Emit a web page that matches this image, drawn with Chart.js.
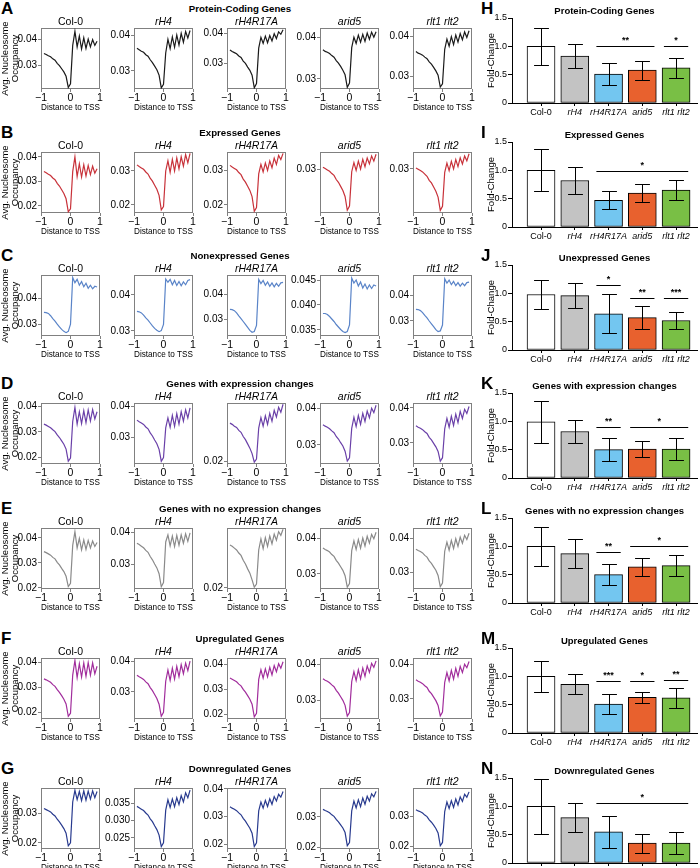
<!DOCTYPE html>
<html>
<head>
<meta charset="utf-8">
<script src="https://cdn.jsdelivr.net/npm/chart.js@4.4.1/dist/chart.umd.min.js"></script>
<style>
  body { margin: 0; background: #fff; width: 700px; height: 868px; position: relative; overflow: hidden;
         font-family: "Liberation Sans", Arial, sans-serif; }
  .letter { position: absolute; font-weight: bold; font-size: 17px; line-height: 17px; }
  .heading { position: absolute; font-weight: bold; font-size: 9.7px; white-space: nowrap; transform: translate(-50%, -50%); }
</style>
</head>
<body>
<script>
// distance to TSS, shared by all profile plots
const xs = [-0.9,-0.825,-0.75,-0.675,-0.6,-0.525,-0.45,-0.375,-0.3,-0.225,-0.15,-0.075,0,0.075,0.15,0.225,0.3,0.375,0.45,0.525,0.6,0.675,0.75,0.825,0.9];

const genotypes = ['Col-0', 'rH4', 'rH4R17A', 'arid5', 'rlt1 rlt2'];

// A - protein coding genes
const codingCol0 = [.0345,.0341,.0336,.0332,.0324,.0319,.0307,.0298,.0286,.0274,.0257,.0214,.0228,.0376,.0430,.0370,.0412,.0362,.0405,.0364,.0400,.0370,.0398,.0376,.0392];
const codingRH4 = [.0363,.0359,.0355,.0352,.0345,.0341,.0331,.0323,.0313,.0303,.0288,.0252,.0262,.0350,.0388,.0362,.0395,.0366,.0400,.0372,.0405,.0380,.0410,.0392,.0413];
const codingR17A = [.0344,.0339,.0335,.0331,.0324,.0319,.0307,.0299,.0287,.0276,.0260,.0218,.0232,.0350,.0386,.0366,.0390,.0368,.0392,.0374,.0398,.0382,.0404,.0396,.0411];
const codingArid5 = [.0370,.0366,.0364,.0361,.0356,.0352,.0344,.0338,.0330,.0321,.0310,.0280,.0290,.0375,.0400,.0385,.0405,.0388,.0407,.0390,.0410,.0395,.0412,.0400,.0413];
const codingRlt = [.0362,.0358,.0356,.0353,.0348,.0344,.0336,.0330,.0322,.0313,.0302,.0272,.0280,.0368,.0394,.0376,.0400,.0380,.0404,.0386,.0408,.0392,.0412,.0398,.0415];
const codingRange = [[.0208,.0443],[.0249,.0420],[.0214,.0417],[.0276,.0422],[.0267,.0422]];
const codingTicks = [['0.03','0.04'],['0.03','0.04'],['0.03','0.04'],['0.03','0.04'],['0.03','0.04']];

// B - expressed genes
const exprCol0 = [.0340,.0335,.0329,.0324,.0314,.0307,.0292,.0281,.0266,.0251,.0229,.0176,.0188,.0340,.0400,.0320,.0372,.0318,.0368,.0322,.0365,.0328,.0362,.0334,.0352];
const exprRH4 = [.0318,.0313,.0309,.0305,.0297,.0291,.0279,.0270,.0258,.0246,.0228,.0185,.0195,.0300,.0330,.0296,.0334,.0300,.0338,.0306,.0342,.0314,.0348,.0324,.0352];
const exprR17A = [.0315,.0310,.0306,.0302,.0294,.0288,.0275,.0266,.0254,.0242,.0224,.0181,.0192,.0290,.0318,.0296,.0322,.0300,.0328,.0308,.0336,.0318,.0344,.0332,.0350];
const exprArid5 = [.0305,.0302,.0299,.0296,.0291,.0287,.0278,.0272,.0263,.0254,.0241,.0211,.0220,.0295,.0315,.0298,.0318,.0301,.0322,.0306,.0325,.0312,.0329,.0318,.0333];
const exprRlt = [.0302,.0299,.0296,.0293,.0288,.0283,.0274,.0268,.0259,.0249,.0236,.0206,.0215,.0292,.0313,.0296,.0317,.0300,.0321,.0305,.0325,.0311,.0329,.0318,.0334];
const exprRange = [[.0171,.0420],[.0176,.0356],[.0176,.0354],[.0205,.0338],[.0200,.0338]];
const exprTicks = [['0.02','0.03','0.04'],['0.02','0.03'],['0.02','0.03'],['0.03'],['0.03']];

// C - nonexpressed genes
const nonCol0 = [.0346,.0345,.0342,.0333,.0322,.0312,.0300,.0290,.0280,.0272,.0267,.0272,.0300,.0482,.0462,.0475,.0452,.0466,.0446,.0460,.0440,.0452,.0438,.0448,.0445];
const nonRH4 = [.0354,.0353,.0350,.0344,.0336,.0330,.0322,.0314,.0307,.0302,.0298,.0301,.0318,.0444,.0435,.0443,.0428,.0440,.0426,.0437,.0425,.0436,.0428,.0440,.0442];
const nonR17A = [.0340,.0339,.0335,.0326,.0314,.0303,.0291,.0279,.0267,.0255,.0247,.0250,.0275,.0462,.0445,.0458,.0438,.0452,.0434,.0448,.0432,.0446,.0434,.0448,.0450];
const nonArid5 = [.0383,.0383,.0381,.0377,.0372,.0367,.0361,.0356,.0351,.0347,.0345,.0347,.0360,.0454,.0444,.0450,.0438,.0446,.0434,.0442,.0432,.0440,.0433,.0440,.0438];
const nonRlt = [.0345,.0344,.0340,.0332,.0321,.0311,.0299,.0288,.0277,.0265,.0257,.0260,.0283,.0465,.0448,.0460,.0442,.0455,.0438,.0450,.0436,.0448,.0438,.0450,.0452];
const nonRange = [[.0254,.0492],[.0286,.0455],[.0232,.0480],[.0338,.0460],[.0240,.0480]];
const nonTicks = [['0.03','0.04'],['0.03','0.04'],['0.03','0.04'],['0.035','0.040','0.045'],['0.03','0.04']];

// D - genes with expression changes
const chgCol0 = [.0330,.0326,.0321,.0316,.0308,.0301,.0288,.0278,.0265,.0252,.0233,.0186,.0198,.0340,.0395,.0330,.0378,.0332,.0382,.0336,.0385,.0342,.0386,.0350,.0378];
const chgRH4 = [.0355,.0350,.0346,.0341,.0333,.0327,.0314,.0304,.0291,.0279,.0261,.0223,.0235,.0330,.0362,.0332,.0370,.0335,.0376,.0342,.0382,.0352,.0388,.0362,.0394];
const chgR17A = [.0263,.0261,.0258,.0256,.0251,.0248,.0241,.0236,.0229,.0222,.0213,.0199,.0204,.0255,.0272,.0258,.0275,.0261,.0279,.0266,.0284,.0273,.0289,.0281,.0294];
const chgArid5 = [.0355,.0351,.0348,.0344,.0338,.0333,.0323,.0316,.0306,.0297,.0283,.0256,.0265,.0345,.0375,.0350,.0380,.0356,.0386,.0364,.0392,.0374,.0400,.0388,.0408];
const chgRlt = [.0349,.0345,.0342,.0338,.0332,.0327,.0316,.0309,.0299,.0289,.0276,.0248,.0258,.0340,.0370,.0345,.0376,.0350,.0382,.0358,.0390,.0370,.0396,.0384,.0404];
const chgRange = [[.0175,.0412],[.0214,.0410],[.0196,.0296],[.0248,.0414],[.0240,.0414]];
const chgTicks = [['0.02','0.03','0.04'],['0.03','0.04'],['0.02'],['0.03','0.04'],['0.03','0.04']];

// E - genes with no expression changes
const noCol0 = [.0345,.0341,.0336,.0331,.0322,.0316,.0302,.0292,.0278,.0265,.0246,.0205,.0218,.0370,.0425,.0360,.0398,.0352,.0392,.0354,.0390,.0360,.0388,.0366,.0382];
const noRH4 = [.0366,.0362,.0357,.0352,.0344,.0338,.0325,.0315,.0302,.0290,.0272,.0232,.0245,.0370,.0392,.0358,.0388,.0356,.0390,.0360,.0392,.0366,.0395,.0372,.0398];
const noR17A = [.0270,.0268,.0265,.0262,.0257,.0253,.0245,.0239,.0231,.0224,.0213,.0201,.0206,.0262,.0280,.0264,.0282,.0268,.0285,.0272,.0288,.0278,.0292,.0286,.0296];
const noArid5 = [.0372,.0368,.0365,.0361,.0354,.0349,.0338,.0330,.0320,.0310,.0295,.0263,.0273,.0365,.0392,.0368,.0396,.0372,.0400,.0378,.0405,.0386,.0410,.0398,.0416];
const noRlt = [.0368,.0364,.0361,.0357,.0350,.0345,.0334,.0327,.0317,.0307,.0292,.0260,.0270,.0362,.0388,.0365,.0393,.0370,.0398,.0376,.0403,.0385,.0408,.0396,.0414];
const noRange = [[.0195,.0440],[.0225,.0413],[.0198,.0298],[.0258,.0428],[.0253,.0429]];
const noTicks = [['0.02','0.03','0.04'],['0.03','0.04'],['0.02'],['0.03','0.04'],['0.03','0.04']];

// F - upregulated genes
const upCol0 = [.0335,.0331,.0326,.0321,.0312,.0305,.0292,.0281,.0268,.0254,.0235,.0186,.0198,.0350,.0408,.0340,.0395,.0342,.0398,.0345,.0400,.0350,.0398,.0355,.0385];
const upRH4 = [.0355,.0350,.0346,.0341,.0333,.0327,.0314,.0304,.0291,.0278,.0259,.0219,.0232,.0335,.0372,.0338,.0378,.0342,.0384,.0350,.0390,.0360,.0395,.0370,.0402];
const upR17A = [.0345,.0340,.0335,.0330,.0321,.0314,.0300,.0289,.0275,.0261,.0241,.0191,.0205,.0340,.0378,.0345,.0382,.0350,.0388,.0358,.0395,.0370,.0402,.0384,.0410];
const upArid5 = [.0360,.0356,.0353,.0349,.0343,.0338,.0328,.0320,.0310,.0300,.0286,.0256,.0266,.0352,.0380,.0355,.0385,.0360,.0390,.0367,.0396,.0378,.0403,.0392,.0410];
const upRlt = [.0355,.0351,.0348,.0344,.0338,.0333,.0322,.0315,.0305,.0295,.0281,.0251,.0262,.0348,.0376,.0352,.0382,.0357,.0388,.0365,.0394,.0376,.0400,.0390,.0408];
const upRange = [[.0175,.0418],[.0210,.0412],[.0182,.0425],[.0248,.0418],[.0242,.0418]];
const upTicks = [['0.02','0.03','0.04'],['0.03','0.04'],['0.02','0.03','0.04'],['0.03','0.04'],['0.03','0.04']];

// G - downregulated genes
const downCol0 = [.0318,.0314,.0310,.0306,.0298,.0292,.0281,.0272,.0261,.0249,.0233,.0190,.0200,.0340,.0380,.0348,.0376,.0345,.0378,.0346,.0377,.0350,.0378,.0355,.0376];
const downRH4 = [.0341,.0337,.0333,.0329,.0322,.0316,.0305,.0297,.0285,.0274,.0258,.0225,.0236,.0330,.0360,.0338,.0362,.0340,.0366,.0346,.0372,.0354,.0380,.0366,.0388];
const downR17A = [.0335,.0330,.0326,.0321,.0313,.0306,.0293,.0283,.0270,.0257,.0239,.0191,.0204,.0320,.0352,.0330,.0358,.0336,.0364,.0344,.0372,.0356,.0380,.0370,.0390];
const downArid5 = [.0325,.0321,.0318,.0314,.0307,.0302,.0292,.0284,.0274,.0264,.0249,.0206,.0216,.0320,.0352,.0330,.0356,.0334,.0362,.0342,.0368,.0352,.0376,.0366,.0384];
const downRlt = [.0322,.0318,.0315,.0311,.0304,.0299,.0288,.0280,.0270,.0259,.0244,.0201,.0212,.0316,.0348,.0326,.0352,.0330,.0358,.0338,.0365,.0350,.0374,.0364,.0382];
const downRange = [[.0179,.0388],[.0218,.0394],[.0182,.0403],[.0195,.0395],[.0190,.0395]];
const downTicks = [['0.02','0.03'],['0.025','0.030','0.035'],['0.02','0.03','0.04'],['0.02','0.03'],['0.02','0.03']];

// H-N fold change: mean, sd, significance [from, to, level, stars]
const codingMean = [1.0, 0.83, 0.51, 0.58, 0.62];
const codingSd = [0.33, 0.21, 0.19, 0.17, 0.17];
const codingSig = [[2, 3, 1.0, '**'], [4, 4, 1.0, '*']];
const exprMean = [1.0, 0.82, 0.47, 0.60, 0.65];
const exprSd = [0.37, 0.24, 0.16, 0.16, 0.18];
const exprSig = [[2, 4, 0.99, '*']];
const unexMean = [0.98, 0.96, 0.64, 0.57, 0.52];
const unexSd = [0.25, 0.22, 0.34, 0.20, 0.15];
const unexSig = [[2, 2, 1.15, '*'], [3, 3, 0.91, '**'], [4, 4, 0.91, '***']];
const chgMean = [0.99, 0.82, 0.50, 0.51, 0.51];
const chgSd = [0.37, 0.21, 0.20, 0.14, 0.19];
const chgSig = [[2, 2, 0.9, '**'], [3, 4, 0.9, '*']];
const noMean = [1.0, 0.87, 0.50, 0.64, 0.66];
const noSd = [0.35, 0.26, 0.18, 0.16, 0.19];
const noSig = [[2, 2, 0.9, '**'], [3, 4, 1.0, '*']];
const upMean = [1.0, 0.86, 0.51, 0.63, 0.62];
const upSd = [0.27, 0.18, 0.17, 0.10, 0.18];
const upSig = [[2, 2, 0.92, '***'], [3, 3, 0.92, '*'], [4, 4, 0.94, '**']];
const downMean = [1.0, 0.80, 0.55, 0.35, 0.35];
const downSd = [0.48, 0.26, 0.28, 0.17, 0.19];
const downSig = [[2, 4, 1.06, '*']];

const barColors = ['#ffffff', '#c3c3c3', '#73c6f0', '#e8612e', '#79bf45'];
const foldTicks = ['0', '0.5', '1.0', '1.5'];

const rows = [
  { letter: 'A', barLetter: 'H', heading: 'Protein-Coding Genes', barTitle: 'Protein-Coding Genes', color: '#1a1a1a',
    lines: [codingCol0, codingRH4, codingR17A, codingArid5, codingRlt], range: codingRange, ticks: codingTicks,
    mean: codingMean, sd: codingSd, sig: codingSig },
  { letter: 'B', barLetter: 'I', heading: 'Expressed Genes', barTitle: 'Expressed Genes', color: '#c8323a',
    lines: [exprCol0, exprRH4, exprR17A, exprArid5, exprRlt], range: exprRange, ticks: exprTicks,
    mean: exprMean, sd: exprSd, sig: exprSig },
  { letter: 'C', barLetter: 'J', heading: 'Nonexpressed Genes', barTitle: 'Unexpressed Genes', color: '#5a84c8',
    lines: [nonCol0, nonRH4, nonR17A, nonArid5, nonRlt], range: nonRange, ticks: nonTicks,
    mean: unexMean, sd: unexSd, sig: unexSig },
  { letter: 'D', barLetter: 'K', heading: 'Genes with expression changes', barTitle: 'Genes with expression changes', color: '#6a40a8',
    lines: [chgCol0, chgRH4, chgR17A, chgArid5, chgRlt], range: chgRange, ticks: chgTicks,
    mean: chgMean, sd: chgSd, sig: chgSig },
  { letter: 'E', barLetter: 'L', heading: 'Genes with no expression changes', barTitle: 'Genes with no expression changes', color: '#8a8a8a',
    lines: [noCol0, noRH4, noR17A, noArid5, noRlt], range: noRange, ticks: noTicks,
    mean: noMean, sd: noSd, sig: noSig },
  { letter: 'F', barLetter: 'M', heading: 'Upregulated Genes', barTitle: 'Upregulated Genes', color: '#a12d9c',
    lines: [upCol0, upRH4, upR17A, upArid5, upRlt], range: upRange, ticks: upTicks,
    mean: upMean, sd: upSd, sig: upSig },
  { letter: 'G', barLetter: 'N', heading: 'Downregulated Genes', barTitle: 'Downregulated Genes', color: '#283a8e',
    lines: [downCol0, downRH4, downR17A, downArid5, downRlt], range: downRange, ticks: downTicks,
    mean: downMean, sd: downSd, sig: downSig },
];

// layout of the panels (px)
const boxLeft = [41, 134, 227, 320, 413];
const boxW = 59, boxH = 61;
const rowTop = [28, 152, 275, 403, 528, 658, 788];

Chart.defaults.font.family = '"Liberation Sans", Arial, sans-serif';
Chart.defaults.color = '#000';

function addCanvas(left, top, w, h) {
  const cv = document.createElement('canvas');
  cv.width = w;
  cv.height = h;
  cv.style.cssText = `position:absolute;left:${left}px;top:${top}px;width:${w}px;height:${h}px`;
  document.body.appendChild(cv);
  return cv;
}

function addText(cls, text, left, top) {
  const d = document.createElement('div');
  d.className = cls;
  d.textContent = text;
  d.style.left = left + 'px';
  d.style.top = top + 'px';
  document.body.appendChild(d);
}

// grey frame round the profile plots
const frame = {
  id: 'frame',
  beforeDatasetsDraw(chart) {
    const a = chart.chartArea, c = chart.ctx;
    c.save();
    c.strokeStyle = '#808080';
    c.lineWidth = 1;
    c.strokeRect(Math.round(a.left) + 0.5, Math.round(a.top) + 0.5, Math.round(a.right - a.left) - 1, Math.round(a.bottom - a.top) - 1);
    c.restore();
  }
};

function lineChart(cv, ys, row, c, yw) {
  const tickLabels = row.ticks[c];
  new Chart(cv, {
    type: 'line',
    data: {
      datasets: [{
        data: xs.map((x, i) => ({ x: x, y: ys[i] })),
        borderColor: row.color,
        borderWidth: 1.2,
        pointRadius: 0,
        tension: 0,
        fill: false,
      }]
    },
    options: {
      responsive: false,
      animation: false,
      events: [],
      layout: { padding: { left: 0, right: 8, top: 0, bottom: 0 } },
      plugins: {
        legend: { display: false },
        tooltip: { enabled: false },
        title: {
          display: true,
          fullSize: false,
          text: genotypes[c],
          font: { size: 10.5, weight: 'normal', style: c === 0 ? 'normal' : 'italic', lineHeight: '12px' },
          color: '#000',
          padding: { top: 4, bottom: 0 },
        },
      },
      scales: {
        x: {
          type: 'linear',
          min: -1,
          max: 1,
          afterBuildTicks: (s) => { s.ticks = [-1, 0, 1].map(v => ({ value: v })); },
          afterFit: (s) => { s.height = 25; },
          grid: { drawOnChartArea: false, drawTicks: true, tickLength: 3, color: '#808080' },
          border: { display: false },
          ticks: { font: { size: 10.5 }, padding: 0, maxRotation: 0, callback: (v) => v < 0 ? '\u2212' + (-v) : String(v) },
          title: { display: true, text: 'Distance to TSS', font: { size: 9.8, lineHeight: '12px' }, padding: { top: 0, bottom: 1 } },
        },
        y: {
          min: row.range[c][0],
          max: row.range[c][1],
          afterBuildTicks: (s) => { s.ticks = tickLabels.map(t => ({ value: Number(t) })); },
          afterFit: (s) => { s.width = yw; },
          grid: { drawOnChartArea: false, drawTicks: true, tickLength: 3, color: '#808080' },
          border: { display: false },
          ticks: { font: { size: 10 }, padding: 1, callback: (v, i) => tickLabels[i] },
          title: c === 0
            ? { display: true, text: ['Avg. Nucleosome', 'Occupancy'], font: { size: 9.5, lineHeight: '10px' }, padding: { top: 0, bottom: 0 } }
            : { display: false },
        },
      },
    },
    plugins: [frame],
  });
}

function barChart(cv, row) {
  // error bars and significance lines on top of the bars
  const extras = {
    id: 'extras',
    afterDatasetsDraw(chart) {
      const { ctx, scales: { x, y } } = chart;
      ctx.save();
      ctx.strokeStyle = '#000';
      ctx.lineWidth = 1;
      row.mean.forEach((m, i) => {
        const px = Math.round(x.getPixelForValue(i)) + 0.5;
        const hi = Math.round(y.getPixelForValue(m + row.sd[i])) + 0.5;
        const lo = Math.round(y.getPixelForValue(m - row.sd[i])) + 0.5;
        const cap = x.getPixelForValue(i + 0.22) - x.getPixelForValue(i);
        ctx.beginPath();
        ctx.moveTo(px, hi); ctx.lineTo(px, lo);
        ctx.moveTo(px - cap, hi); ctx.lineTo(px + cap, hi);
        ctx.moveTo(px - cap, lo); ctx.lineTo(px + cap, lo);
        ctx.stroke();
      });
      ctx.fillStyle = '#000';
      ctx.font = 'bold 9px "Liberation Sans", Arial, sans-serif';
      ctx.textAlign = 'center';
      ctx.textBaseline = 'bottom';
      row.sig.forEach(([a, b, lvl, stars]) => {
        const x1 = x.getPixelForValue(a - 0.36);
        const x2 = x.getPixelForValue(b + 0.36);
        const py = Math.round(y.getPixelForValue(lvl)) + 0.5;
        ctx.beginPath();
        ctx.moveTo(x1, py); ctx.lineTo(x2, py);
        ctx.stroke();
        ctx.fillText(stars, (x1 + x2) / 2, py - 1);
      });
      ctx.restore();
    }
  };

  new Chart(cv, {
    type: 'bar',
    data: {
      datasets: [{
        data: row.mean.map((m, i) => ({ x: i, y: m })),
        backgroundColor: barColors,
        borderColor: '#000',
        borderWidth: 1,
        borderSkipped: false,
        barThickness: 28,
      }]
    },
    options: {
      responsive: false,
      animation: false,
      events: [],
      layout: { padding: { left: 0, right: 3, top: 0, bottom: 0 } },
      plugins: {
        legend: { display: false },
        tooltip: { enabled: false },
        title: {
          display: true,
          text: row.barTitle,
          fullSize: false,
          font: { size: 9.5, weight: 'bold', lineHeight: '11px' },
          color: '#000',
          padding: { top: 1, bottom: 1 },
        },
      },
      scales: {
        x: {
          type: 'linear',
          offset: false,
          min: -0.86,
          max: 4.62,
          afterBuildTicks: (s) => { s.ticks = genotypes.map((g, i) => ({ value: i })); },
          afterFit: (s) => { s.height = 16; },
          grid: { offset: false, drawOnChartArea: false, drawTicks: true, tickLength: 3, color: '#000' },
          border: { display: true, color: '#000', width: 1 },
          ticks: {
            autoSkip: false,
            maxRotation: 0,
            padding: 1,
            font: (ctx) => ({ size: 9, style: ctx.index === 0 ? 'normal' : 'italic' }),
            callback: (v, i) => genotypes[i],
          },
        },
        y: {
          min: 0,
          max: 1.5,
          afterBuildTicks: (s) => { s.ticks = foldTicks.map(t => ({ value: Number(t) })); },
          afterFit: (s) => { s.width = 30; },
          grid: { drawOnChartArea: false, drawTicks: true, tickLength: 4, color: '#000' },
          border: { display: true, color: '#000', width: 1 },
          ticks: { font: { size: 9 }, padding: 1, callback: (v, i) => foldTicks[i] },
          title: { display: true, text: 'Fold-Change', font: { size: 9.5, lineHeight: '11px' }, padding: { top: 4, bottom: 0 } },
        },
      },
    },
    plugins: [extras],
  });
}

rows.forEach((row, r) => {
  const top = rowTop[r];
  addText('letter', row.letter, 1, top - 28);
  addText('letter', row.barLetter, 481, top - 28);
  addText('heading', row.heading, 240, top - 20);

  row.lines.forEach((ys, c) => {
    const yw = c === 0 ? 41 : 30;
    const cv = addCanvas(boxLeft[c] - yw, top - 16, yw + boxW + 8, 16 + boxH + 25);
    lineChart(cv, ys, row, c, yw);
  });

  const bc = addCanvas(482, top - 23, 218, 23 + 75 + 16);
  barChart(bc, row);
});
</script>
</body>
</html>
